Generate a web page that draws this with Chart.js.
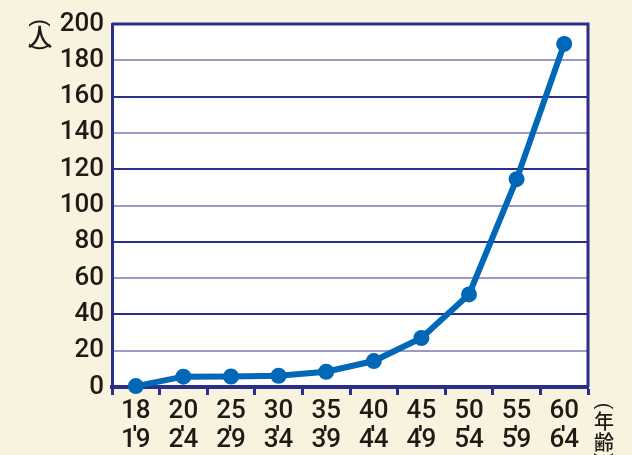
<!DOCTYPE html>
<html>
<head>
<meta charset="utf-8">
<script src="https://cdn.jsdelivr.net/npm/chart.js@4/dist/chart.umd.min.js"></script>
<style>
  html, body { margin: 0; padding: 0; background: #f7f3df; }
  #wrap { width: 632px; height: 455px; position: relative; }
</style>
</head>
<body>
<div id="wrap"><canvas id="c" width="632" height="455"></canvas></div>
<script>
// Age groups (from / to) and number of people in each group
const ageFrom = ['18', '20', '25', '30', '35', '40', '45', '50', '55', '60'];
const ageTo   = ['19', '24', '29', '34', '39', '44', '49', '54', '59', '64'];
const people  = [0.5, 5.7, 5.8, 6.2, 8.4, 14.3, 27, 51, 114.5, 189];
const yTicks  = [0, 20, 40, 60, 80, 100, 120, 140, 160, 180, 200];

const NAVY = '#2b2f8c';
const NAVY_LIGHT = '#9d9acb';
const BLUE = '#0068b7';
const INK = '#231815';
const CREAM = '#f7f3df';
const NUM_FONT = 'Roboto, "Liberation Sans", Arial, sans-serif';
const CJK_FONT = '"Noto Sans CJK JP", sans-serif';

const labels = ageFrom.map((a, i) => [a, ageTo[i]]);

// draws a vertical caption: parentheses turned sideways, characters upright
function verticalCaption(ctx, x, parts) {
  parts.forEach(p => {
    ctx.save();
    ctx.translate(x, p.y);
    if (p.turn) {
      ctx.rotate(Math.PI / 2);
      ctx.font = p.size + 'px "Liberation Sans", Arial, sans-serif';
    } else {
      ctx.font = '500 ' + p.size + 'px ' + CJK_FONT;
    }
    ctx.fillText(p.t, 0, 0);
    ctx.restore();
  });
}

const frame = {
  id: 'frame',
  beforeDraw(chart) {
    const { ctx, chartArea: a } = chart;
    ctx.save();
    ctx.fillStyle = CREAM;
    ctx.fillRect(0, 0, chart.width, chart.height);
    ctx.fillStyle = '#ffffff';
    ctx.fillRect(a.left, a.top, a.right - a.left, a.bottom - a.top);
    ctx.restore();
  },
  afterDraw(chart) {
    const { ctx, chartArea: a, scales } = chart;
    ctx.save();
    // top and right edges of the plot box
    ctx.strokeStyle = NAVY;
    ctx.lineWidth = 3;
    ctx.beginPath();
    ctx.moveTo(a.left, a.top);
    ctx.lineTo(a.right, a.top);
    ctx.lineTo(a.right, a.bottom);
    ctx.stroke();

    // small "to" mark between the two lines of each age label
    const x = scales.x;
    ctx.strokeStyle = INK;
    ctx.lineWidth = 2.5;
    labels.forEach((_, i) => {
      const px = x.getPixelForValue(i);
      ctx.beginPath();
      ctx.moveTo(px - 1, 425);
      ctx.lineTo(px - 1, 431);
      ctx.stroke();
    });

    // vertical axis captions
    ctx.fillStyle = INK;
    ctx.textAlign = 'center';
    ctx.textBaseline = 'middle';
    verticalCaption(ctx, 40, [
      { t: '(', y: 23, size: 22, turn: true },
      { t: '人', y: 36, size: 25 },
      { t: ')', y: 47, size: 22, turn: true }
    ]);
    verticalCaption(ctx, 604, [
      { t: '(', y: 406, size: 20, turn: true },
      { t: '年', y: 421, size: 20 },
      { t: '齢', y: 442, size: 20 },
      { t: ')', y: 456, size: 20, turn: true }
    ]);
    ctx.restore();
  }
};

new Chart(document.getElementById('c'), {
  type: 'line',
  data: {
    labels: labels,
    datasets: [{
      data: people,
      borderColor: BLUE,
      backgroundColor: BLUE,
      borderWidth: 6,
      pointRadius: 8,
      pointHoverRadius: 8,
      pointBackgroundColor: BLUE,
      pointBorderWidth: 0,
      tension: 0,
      clip: false
    }]
  },
  options: {
    responsive: false,
    animation: false,
    devicePixelRatio: 1,
    layout: { padding: { left: 0, right: 44, top: 24, bottom: 0 } },
    plugins: { legend: { display: false }, tooltip: { enabled: false } },
    scales: {
      x: {
        offset: true,
        grid: {
          offset: true,
          drawOnChartArea: false,
          drawTicks: true,
          tickLength: 8,
          tickColor: NAVY,
          tickWidth: 3
        },
        border: { color: NAVY, width: 4 },
        ticks: {
          color: INK,
          font: { family: NUM_FONT, size: 26, weight: '500', lineHeight: 1.12 },
          padding: 2,
          maxRotation: 0,
          autoSkip: false
        },
        afterFit(s) { s.height = 68; }
      },
      y: {
        min: 0,
        max: 200,
        afterBuildTicks(s) { s.ticks = yTicks.map(v => ({ value: v })); },
        grid: {
          drawTicks: false,
          lineWidth: 2,
          color(ctx) {
            const v = ctx.tick ? ctx.tick.value : 0;
            if (v === 0 || v === 200) return 'rgba(0,0,0,0)';
            return v % 40 === 0 ? NAVY : NAVY_LIGHT;
          }
        },
        border: { color: NAVY, width: 3 },
        ticks: {
          color: INK,
          font: { family: NUM_FONT, size: 26, weight: '500' },
          padding: 8
        },
        afterFit(s) { s.width = 112; }
      }
    }
  },
  plugins: [frame]
});
</script>
</body>
</html>
